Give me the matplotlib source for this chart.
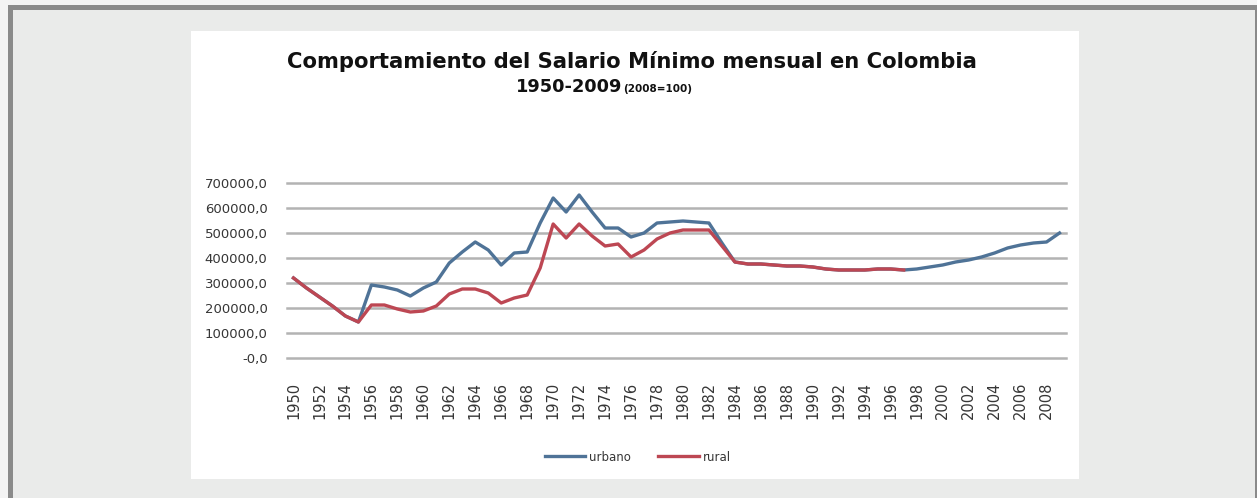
import numpy as np
import matplotlib
matplotlib.use("Agg")
import matplotlib.pyplot as plt
from matplotlib.patches import Rectangle

# ---------------- data ----------------
years = list(range(1950, 2010))

urbano = [320000, 280000, 244000, 208000, 168000, 144000, 292000, 284000, 272000, 248000,
          280000, 304000, 380000, 424000, 464000, 432000, 372000, 420000, 424000, 540000,
          640000, 584000, 652000, 584000, 520000, 520000, 484000, 500000, 540000, 544000,
          548000, 544000, 540000, 460000, 384000, 376000, 376000, 372000, 368000, 368000,
          364000, 356000, 352000, 352000, 352000, 356000, 356000, 352000, 356000, 364000,
          372000, 384000, 392000, 404000, 420000, 440000, 452000, 460000, 464000, 500000]

rural = [320000, 280000, 244000, 208000, 168000, 144000, 212000, 212000, 196000, 184000,
         188000, 208000, 256000, 276000, 276000, 260000, 220000, 240000, 252000, 360000,
         536000, 480000, 536000, 488000, 448000, 456000, 404000, 432000, 476000, 500000,
         512000, 512000, 512000, 448000, 384000, 376000, 376000, 372000, 368000, 368000,
         364000, 356000, 352000, 352000, 352000, 356000, 356000, 352000, None, None,
         None, None, None, None, None, None, None, None, None, None]

series_names = ["urbano", "rural"]
ytick_values = [0, 100000, 200000, 300000, 400000, 500000, 600000, 700000]
ytick_labels = ["-0,0", "100000,0", "200000,0", "300000,0", "400000,0",
                "500000,0", "600000,0", "700000,0"]
xtick_years = list(range(1950, 2010, 2))
xtick_labels = [str(y) for y in xtick_years]

title_line1 = "Comportamiento del Salario Mínimo mensual en Colombia"
title_line2a = "1950-2009"
title_line2b = "(2008=100)"

# ---------------- figure ----------------
W, H = 1257, 498
fig = plt.figure(figsize=(W / 100, H / 100), dpi=100, facecolor="#f3f3f3")


def fx(px):
    return px / W


def fy(py):
    return 1 - py / H


# frame
fig.patches.append(Rectangle((fx(8), 0), fx(1257) - fx(8), fy(5), transform=fig.transFigure,
                             facecolor="#8a8a8a", edgecolor="none", zorder=-10))
fig.patches.append(Rectangle((fx(13), 0), fx(1255) - fx(13), fy(10), transform=fig.transFigure,
                             facecolor="#eaebea", edgecolor="none", zorder=-9))
fig.patches.append(Rectangle((fx(191), fy(479)), fx(1079) - fx(191), fy(31) - fy(479),
                             transform=fig.transFigure, facecolor="white", edgecolor="none",
                             zorder=-8))

ax = fig.add_axes([fx(287), fy(358), fx(1066) - fx(287), fy(183) - fy(358)])
ax.set_zorder(5)
ax.set_facecolor("none")

u = np.array(urbano, dtype=float)
r = np.array([np.nan if v is None else v for v in rural], dtype=float)

ax.plot(years, u, color="#4f7397", lw=2.4, label=series_names[0], zorder=3,
        solid_joinstyle="round")
ax.plot(years, r, color="#bd4753", lw=2.4, label=series_names[1], zorder=4,
        solid_joinstyle="round")

ax.set_xlim(1949.5, 2009.5)
ax.set_ylim(0, 700000)
ax.set_yticks(ytick_values)
ax.set_yticklabels(ytick_labels)
ax.set_xticks(xtick_years)
ax.set_xticklabels(xtick_labels, rotation=90)
ax.tick_params(axis="y", length=0, pad=14, labelsize=9.5, labelcolor="#363636")
ax.tick_params(axis="x", length=0, pad=17, labelsize=10.5, labelcolor="#363636")
ax.grid(axis="y", color="#b3b3b3", lw=1.8, zorder=1)
ax.grid(axis="x", visible=False)
ax.set_axisbelow(True)
for gl in ax.get_ygridlines():
    gl.set_clip_on(False)
for s in ax.spines.values():
    s.set_visible(False)

# title
renderer = fig.canvas.get_renderer()


def fit(t, target_px):
    w = t.get_window_extent(renderer).width
    t.set_fontsize(t.get_fontsize() * target_px / w)


t1 = fig.text(fx(632), fy(62), title_line1, ha="center", va="center",
              fontweight="heavy", fontsize=13, color="#111111")
fit(t1, 685)

t2a = fig.text(fx(622), fy(87), title_line2a, ha="right", va="center",
               fontweight="heavy", fontsize=13, color="#111111")
fit(t2a, 106)
t2b = fig.text(fx(623), fy(89), title_line2b, ha="left", va="center",
               fontweight="bold", fontsize=7.5, color="#111111")

# legend
leg = fig.legend(loc="center", bbox_to_anchor=(fx(638), fy(457)), ncol=2, frameon=False,
                 fontsize=8.5, handlelength=3.4, handletextpad=0.4, columnspacing=2.3,
                 labelcolor="#363636")

fig.savefig("out.png", dpi=100, facecolor=fig.get_facecolor())
